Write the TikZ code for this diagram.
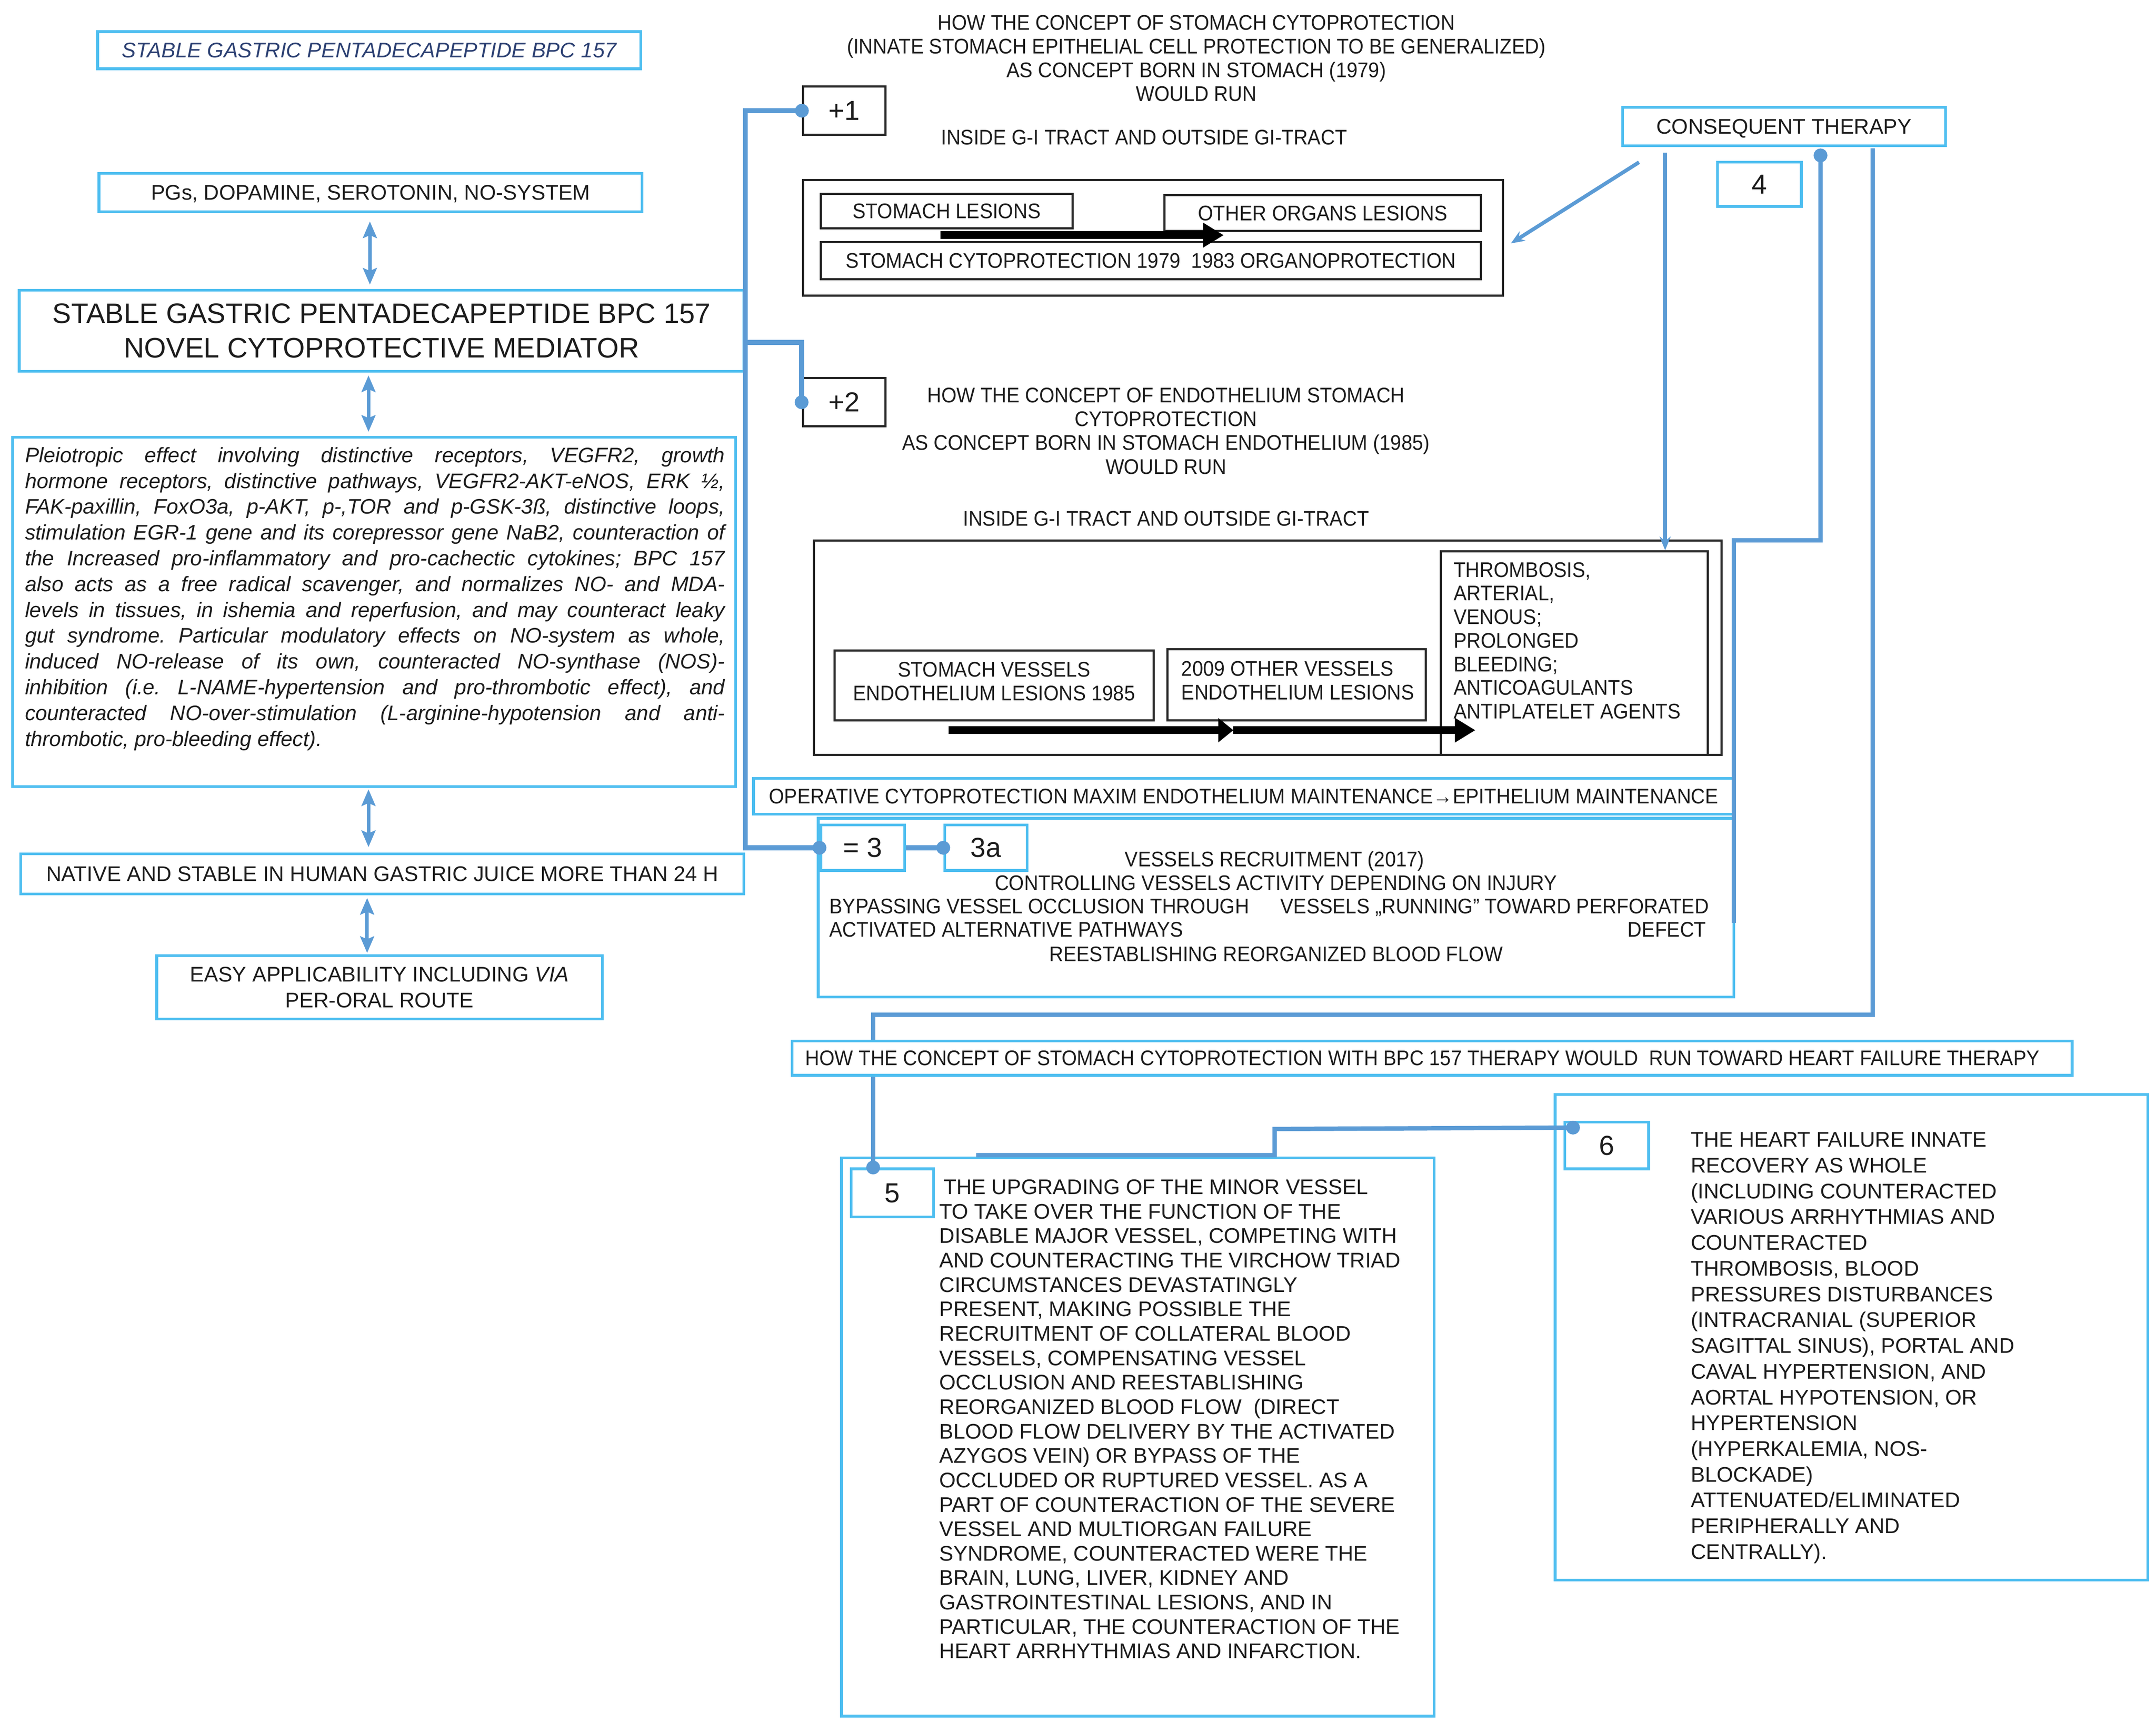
\documentclass[tikz,border=0pt]{standalone}
\usepackage{fontspec}
\setmainfont{Liberation Sans}
\newfontfamily\cnd[FakeStretch=0.925]{Liberation Sans}
\usetikzlibrary{arrows.meta,calc}
\definecolor{lblue}{RGB}{78,190,240}
\definecolor{cblue}{RGB}{91,155,213}
\definecolor{navy}{RGB}{45,65,115}
\definecolor{ink}{RGB}{28,28,28}
\newcommand{\fsnorm}{\fontsize{15.4}{17.3}\selectfont}
\newcommand{\fscond}{\cnd\fontsize{15.4}{17.33}\selectfont}
\newcommand{\fsbig}{\fontsize{20.5}{25}\selectfont}
\newcommand{\fsnum}{\fontsize{20}{24}\selectfont}
\tikzset{
  lbox/.style={draw=lblue, line width=2pt, fill=white, inner sep=0pt, text=ink},
  kbox/.style={draw=black!85, line width=1.6pt, fill=white, inner sep=0pt, text=ink},
  capht/.style={text height=10.6pt, text depth=0pt},
  numcap/.style={font=\fsnum, text height=13.8pt, text depth=0pt},
  txt/.style={inner sep=0pt, text=ink},
  conn/.style={draw=cblue, line width=3.6pt},
  mconn/.style={draw=cblue, line width=3.2pt},
  tconn/.style={draw=cblue, line width=2.7pt},
  enddot/.style={-{Circle[length=10pt]}, shorten >=-5pt},
  startdot/.style={{Circle[length=10pt]}-, shorten <=-5pt},
  bothdot/.style={{Circle[length=10pt]}-{Circle[length=10pt]}, shorten <=-5pt, shorten >=-5pt},
  dbl/.style={draw=cblue, line width=2.5pt, {Stealth[length=12pt,width=10pt,inset=2pt]}-{Stealth[length=12pt,width=10pt,inset=2pt]}},
  blackarrow/.style={draw=black, line width=5.6pt, -{Triangle[length=15pt,width=17pt]}},
  shortblackarrow/.style={draw=black, line width=5.6pt, -{Triangle[length=11pt,width=17pt]}},
  smalltip/.style={-{Stealth[length=10pt,width=8pt]}},
}
\begin{document}
\begin{tikzpicture}[x=1pt,y=-1pt]
\useasboundingbox (0,0) rectangle (1568,1258.5);
\fill[white] (0,0) rectangle (1568,1258.5);

% ---------------- left column ----------------
\node[lbox, capht, minimum width=395pt, minimum height=27pt, font=\fsnorm\itshape, text=navy] (title) at (268.5,36.5) {STABLE GASTRIC PENTADECAPEPTIDE BPC 157};
\node[lbox, capht, minimum width=395pt, minimum height=28pt, font=\fsnorm] (pgs) at (269.5,140) {PGs, DOPAMINE, SEROTONIN, NO-SYSTEM};
\node[lbox, minimum width=527pt, minimum height=59pt, font=\fsbig, align=center] (main) at (277.5,240.5) {STABLE GASTRIC PENTADECAPEPTIDE BPC 157\\NOVEL CYTOPROTECTIVE MEDIATOR};
\node[lbox, minimum width=526pt, minimum height=254pt] (para) at (272,445) {};
\node[txt, anchor=north west, text width=509pt, align=justify, font={\fontsize{15.3}{18.75}\selectfont\itshape}] (paratext) at (18,325) {\hyphenpenalty=10000 \exhyphenpenalty=10000 \tolerance=9999 \frenchspacing Pleiotropic effect involving distinctive receptors, VEGFR2, growth\linebreak
hormone receptors, distinctive pathways, VEGFR2-AKT-eNOS, ERK ½,\linebreak
FAK-paxillin, FoxO3a, p-AKT, p-,TOR and p-GSK-3ß, distinctive loops,\linebreak
stimulation EGR-1 gene and its corepressor gene NaB2, counteraction of\linebreak
the Increased pro-inflammatory and pro-cachectic cytokines; BPC 157\linebreak
also acts as a free radical scavenger, and normalizes NO- and MDA-\linebreak
levels in tissues, in ishemia and reperfusion, and may counteract leaky\linebreak
gut syndrome. Particular modulatory effects on NO-system as whole,\linebreak
induced NO-release of its own, counteracted NO-synthase (NOS)-\linebreak
inhibition (i.e. L-NAME-hypertension and pro-thrombotic effect), and\linebreak
counteracted NO-over-stimulation (L-arginine-hypotension and anti-\linebreak
thrombotic, pro-bleeding effect).};
\node[lbox, capht, minimum width=526pt, minimum height=29pt, font=\fsnorm] (native) at (278,635.5) {NATIVE AND STABLE IN HUMAN GASTRIC JUICE MORE THAN 24 H};
\node[lbox, minimum width=324pt, minimum height=46pt, font={\fontsize{15.4}{19}\selectfont}, align=center] (easy) at (276,718) {EASY APPLICABILITY INCLUDING \textit{VIA}\\PER-ORAL ROUTE};

\coordinate (ax1) at (269,0);
\coordinate (ax2) at (268,0);
\coordinate (ax3) at (267,0);
\draw[dbl] ($(ax1|-pgs.south)+(0,6)$) -- ($(ax1|-main.north)+(0,-3)$);
\draw[dbl] ($(ax2|-main.south)+(0,2)$) -- ($(ax2|-para.north)+(0,-3)$);
\draw[dbl] ($(ax2|-para.south)+(0,1)$) -- ($(ax2|-native.north)+(0,-4)$);
\draw[dbl] ($(ax3|-native.south)+(0,2)$) -- ($(ax3|-easy.north)+(0,-1)$);

% ---------------- top middle ----------------
\node[kbox, numcap, minimum width=60pt, minimum height=35pt] (p1) at (614,80.5) {+1};
\node[txt, anchor=north, align=center, font=\fscond] (t1) at (870,10.7) {HOW THE CONCEPT OF STOMACH CYTOPROTECTION\\(INNATE STOMACH EPITHELIAL CELL PROTECTION TO BE GENERALIZED)\\AS CONCEPT BORN IN STOMACH (1979)\\WOULD RUN};
\node[txt, capht, font=\fscond] (ins1) at (832,100) {INSIDE G-I TRACT AND OUTSIDE GI-TRACT};
\node[kbox, minimum width=509pt, minimum height=84pt] (big1) at (838.5,173) {};
\node[kbox, capht, minimum width=183pt, minimum height=25pt, font=\fscond] (sl) at (688.5,153.5) {STOMACH LESIONS};
\node[kbox, capht, minimum width=230pt, minimum height=26pt, font=\fscond] (ool) at (962,155) {OTHER ORGANS LESIONS};
\node[kbox, capht, minimum width=480pt, minimum height=27pt, font=\fscond] (sc) at (837,189.5) {STOMACH CYTOPROTECTION 1979\ \ 1983 ORGANOPROTECTION};
\coordinate (a1s) at (684,171);
\coordinate (a1e) at (890,171);
\draw[blackarrow] (a1s) -- (a1e);

\node[lbox, capht, minimum width=235pt, minimum height=28pt, font=\fsnorm] (ct) at (1297.5,92) {CONSEQUENT THERAPY};
\node[lbox, numcap, minimum width=61pt, minimum height=32pt] (n4) at (1279.5,134) {4};

% ---------------- middle ----------------
\node[kbox, numcap, minimum width=60pt, minimum height=35pt] (p2) at (614,292.5) {+2};
\node[txt, anchor=north, align=center, font=\fscond] (t2) at (848,281.7) {HOW THE CONCEPT OF ENDOTHELIUM STOMACH\\CYTOPROTECTION\\AS CONCEPT BORN IN STOMACH ENDOTHELIUM (1985)\\WOULD RUN};
\node[txt, capht, font=\fscond] (ins2) at (848,377) {INSIDE G-I TRACT AND OUTSIDE GI-TRACT};
\node[kbox, minimum width=660pt, minimum height=156pt] (big2) at (922,471) {};
\node[kbox, minimum width=194pt, minimum height=148pt] (thr) at (1145,475) {};
\node[txt, anchor=north west, align=left, font={\cnd\fontsize{15.4}{17.17}\selectfont}] (thrt) at (1057,408.7) {THROMBOSIS,\\ARTERIAL,\\VENOUS;\\PROLONGED\\BLEEDING;\\ANTICOAGULANTS\\ANTIPLATELET AGENTS};
\node[kbox, minimum width=232pt, minimum height=51pt] (svel) at (723,498.5) {};
\node[txt, align=center, font={\cnd\fontsize{15.4}{17}\selectfont}] (svelt) at (723,495.5) {STOMACH VESSELS\\ENDOTHELIUM LESIONS 1985};
\node[kbox, minimum width=188pt, minimum height=52pt] (ovel) at (943,498) {};
\node[txt, anchor=north west, align=left, font={\cnd\fontsize{15.4}{17}\selectfont}] (ovelt) at (859,480.7) {2009 OTHER VESSELS\\ENDOTHELIUM LESIONS};
\coordinate (a2s) at (690,531);
\coordinate (a2m) at (897,531);
\coordinate (a2e) at (1073,531);
\draw[shortblackarrow] (a2s) -- (a2m);
\draw[blackarrow] (a2m) -- (a2e);

% ---------------- operative / 3 ----------------
\node[lbox, capht, minimum width=713pt, minimum height=26pt, font=\fscond] (op) at (904.5,579) {OPERATIVE CYTOPROTECTION MAXIM ENDOTHELIUM MAINTENANCE→EPITHELIUM MAINTENANCE};
\node[lbox, minimum width=666pt, minimum height=130pt] (big3) at (928,660) {};
\node[lbox, numcap, minimum width=61pt, minimum height=33pt] (eq3) at (627.5,616.5) {= 3};
\node[lbox, numcap, minimum width=60pt, minimum height=33pt] (b3a) at (717,616.5) {3a};
\node[txt, capht, font=\fscond] (r1) at (927,625) {VESSELS RECRUITMENT (2017)};
\node[txt, capht, font=\fscond] (r2) at (928,642) {CONTROLLING VESSELS ACTIVITY DEPENDING ON INJURY};
\node[txt, capht, font=\fscond, anchor=west] (r3) at (603,659) {BYPASSING VESSEL OCCLUSION THROUGH};
\node[txt, capht, font=\fscond, anchor=east] (r4) at (1243,659) {VESSELS „RUNNING” TOWARD PERFORATED};
\node[txt, capht, font=\fscond, anchor=west] (r5) at (603,676) {ACTIVATED ALTERNATIVE PATHWAYS};
\node[txt, capht, font=\fscond, anchor=east] (r6) at (1241,676) {DEFECT};
\node[txt, capht, font=\fscond] (r7) at (928,694) {REESTABLISHING REORGANIZED BLOOD FLOW};

% ---------------- 5 and 6 ----------------
\node[lbox, minimum width=431pt, minimum height=406pt] (big5) at (827.5,1045) {};
\node[lbox, numcap, minimum width=60pt, minimum height=35pt] (n5) at (649,867.5) {5};
\node[txt, anchor=north west, align=left, font={\fontsize{15.4}{17.77}\selectfont}] (t5) at (683,857.5) {\hspace*{3pt}THE UPGRADING OF THE MINOR VESSEL\\TO TAKE OVER THE FUNCTION OF THE\\DISABLE MAJOR VESSEL, COMPETING WITH\\AND COUNTERACTING THE VIRCHOW TRIAD\\CIRCUMSTANCES DEVASTATINGLY\\PRESENT, MAKING POSSIBLE THE\\RECRUITMENT OF COLLATERAL BLOOD\\VESSELS, COMPENSATING VESSEL\\OCCLUSION AND REESTABLISHING\\REORGANIZED BLOOD FLOW\ \ (DIRECT\\BLOOD FLOW DELIVERY BY THE ACTIVATED\\AZYGOS VEIN) OR BYPASS OF THE\\OCCLUDED OR RUPTURED VESSEL. AS A\\PART OF COUNTERACTION OF THE SEVERE\\VESSEL AND MULTIORGAN FAILURE\\SYNDROME, COUNTERACTED WERE THE\\BRAIN, LUNG, LIVER, KIDNEY AND\\GASTROINTESTINAL LESIONS, AND IN\\PARTICULAR, THE COUNTERACTION OF THE\\HEART ARRHYTHMIAS AND INFARCTION.};
\node[lbox, minimum width=431pt, minimum height=353pt] (big6) at (1346.5,972.5) {};
\node[lbox, numcap, minimum width=61pt, minimum height=34pt] (n6) at (1168.5,833) {6};
\node[txt, anchor=north west, align=left, font={\fontsize{15.4}{18.73}\selectfont}] (t6) at (1229.5,823.3) {THE HEART FAILURE INNATE\\RECOVERY AS WHOLE\\(INCLUDING COUNTERACTED\\VARIOUS ARRHYTHMIAS AND\\COUNTERACTED\\THROMBOSIS, BLOOD\\PRESSURES DISTURBANCES\\(INTRACRANIAL (SUPERIOR\\SAGITTAL SINUS), PORTAL AND\\CAVAL HYPERTENSION, AND\\AORTAL HYPOTENSION, OR\\HYPERTENSION\\(HYPERKALEMIA, NOS-\\BLOCKADE)\\ATTENUATED/ELIMINATED\\PERIPHERALLY AND\\CENTRALLY).};

% ---------------- connectors ----------------
\draw[conn, bothdot] (p1.west) -- (p1.west -| main.east) -- (main.east |- eq3.west) -- (eq3.west);
\coordinate (b2) at (583,249);
\draw[conn, enddot] (b2 -| main.east) -- (b2) -- (b2 |- p2.west);
\draw[conn, enddot] (eq3.east) -- (b3a.west);
\coordinate (ctd) at (1192,118);
\draw[tconn, smalltip] (ctd) -- ($(big1.east)+(5,4)$);
\coordinate (v1) at (1211,111);
\draw[tconn, smalltip] (v1) -- (v1 |- thr.north);
\coordinate (v2) at (1324,113);
\coordinate (v2b) at (1261,393);
\coordinate (v2c) at (1261,671);
\draw[mconn, startdot] (v2) -- (v2 |- v2b) -- (v2b) -- (v2c);
\coordinate (v3) at (1362,108);
\coordinate (v3b) at (1362,738);
\coordinate (n5dot) at ($(n5.north west)+(17,0)$);
\draw[mconn, enddot] (v3) -- (v3b) -- (v3b -| n5dot) -- (n5dot);
\coordinate (l6a) at (710,840);
\coordinate (l6b) at (927,821);
\coordinate (n6dot) at ($(n6.north west)+(7,5)$);
\draw[mconn, enddot] (l6a) -- (l6a -| l6b) -- (l6b) -- (n6dot);

% heart failure banner (drawn over the connector)
\node[lbox, minimum width=931pt, minimum height=25pt] (howbox) at (1041.5,769.5) {};
\node[txt, capht, font=\fscond] (howtext) at (1034.5,769.5) {HOW THE CONCEPT OF STOMACH CYTOPROTECTION WITH BPC 157 THERAPY WOULD\ \ RUN TOWARD HEART FAILURE THERAPY};
\end{tikzpicture}
\end{document}
